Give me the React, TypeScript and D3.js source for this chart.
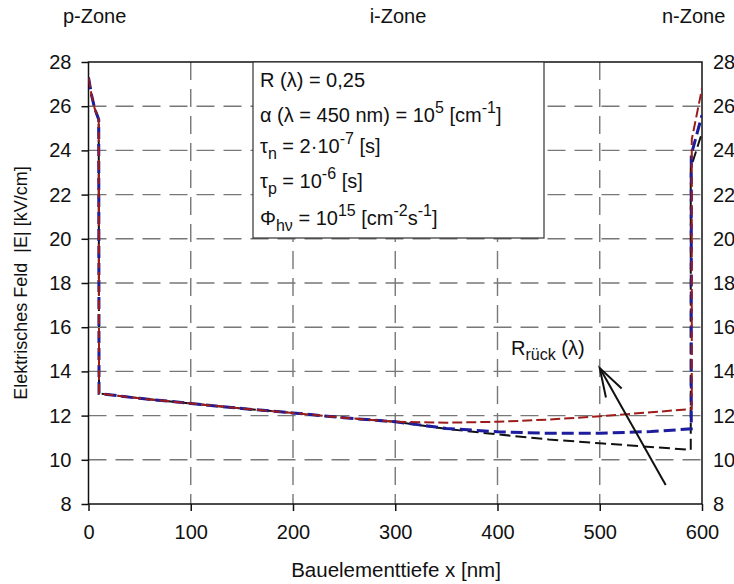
import { useEffect, useRef } from "react";
import * as d3 from "d3";

// shared course: p-zone spike, drop, then common decline in the i-zone
const xShared = [0, 3, 6, 10, 10.3, 50, 100, 150, 200, 250, 300];
const eShared = [27.3, 26.5, 25.9, 25.4, 13.0, 12.78, 12.55, 12.32, 12.12, 11.9, 11.72];

// series tails (after x = 300)
const xRed = [350, 400, 450, 500, 550, 590, 590, 600];
const eRed = [11.68, 11.72, 11.82, 11.97, 12.15, 12.3, 24.5, 26.8];
const xBlue = [350, 400, 450, 500, 550, 589.5, 589.5, 600];
const eBlue = [11.42, 11.27, 11.2, 11.2, 11.28, 11.4, 23.8, 25.6];
const xBlack = [350, 400, 450, 500, 550, 589, 589, 600];
const eBlack = [11.4, 11.15, 10.92, 10.75, 10.58, 10.45, 23.2, 24.8];

const xTicks = [0, 100, 200, 300, 400, 500, 600];
const yTicks = [8, 10, 12, 14, 16, 18, 20, 22, 24, 26, 28];

// arrow pointing at R_rück label
const arrowFrom = [564.5, 8.86];
const arrowTo = [500, 14.15];

const FONT = "'Liberation Sans', Arial, sans-serif";

const W = 734, H = 584;
const margin = { top: 62, right: 32, bottom: 80, left: 88.5 };
const iw = 702 - margin.left;
const ih = 504 - margin.top;

const x = d3.scaleLinear().domain([0, 600]).range([0, iw]);
const y = d3.scaleLinear().domain([8, 28]).range([ih, 0]);

const mk = (xs, es) =>
  xShared.map((v, i) => [v, eShared[i]]).concat(xs.map((v, i) => [v, es[i]]));

const series = [
  { name: "black", data: mk(xBlack, eBlack), color: "#111", width: 2, dash: "11,5" },
  { name: "blue", data: mk(xBlue, eBlue), color: "#1c1c9c", width: 3, dash: "12,5" },
  { name: "red", data: mk(xRed, eRed), color: "#9c1c1c", width: 2, dash: "10,4" },
];

// rich text: segments of [text, kind] where kind is "n" | "sup" | "sub"
const RichText = ({ x0, y0, parts, size = 20, sub = 6, sup = 9 }) => {
  let shift = 0;
  return (
    <text x={x0} y={y0} fontSize={size}>
      {parts.map(([t, k], i) => {
        const target = k === "sup" ? -sup : k === "sub" ? sub : 0;
        const dy = target - shift;
        shift = target;
        return (
          <tspan key={i} dy={dy} fontSize={k === "n" ? size : 16}>{t}</tspan>
        );
      })}
    </text>
  );
};

export default function App() {
  const axRef = useRef(null);

  useEffect(() => {
    const g = d3.select(axRef.current);
    g.selectAll("*").remove();

    // grid
    g.append("g")
      .selectAll("line")
      .data(yTicks.filter((d) => d > 8 && d < 28))
      .join("line")
      .attr("x1", 0).attr("x2", iw)
      .attr("y1", (d) => y(d)).attr("y2", (d) => y(d))
      .attr("stroke", "#777").attr("stroke-width", 1.4)
      .attr("stroke-dasharray", "18,9");
    g.append("g")
      .selectAll("line")
      .data(xTicks.filter((d) => d > 0 && d < 600))
      .join("line")
      .attr("y1", 0).attr("y2", ih)
      .attr("x1", (d) => x(d)).attr("x2", (d) => x(d))
      .attr("stroke", "#777").attr("stroke-width", 1.4)
      .attr("stroke-dasharray", "18,9");

    const left = g.append("g").call(d3.axisLeft(y).tickValues(yTicks).tickSize(7).tickPadding(10));
    const right = g.append("g").attr("transform", `translate(${iw},0)`)
      .call(d3.axisRight(y).tickValues(yTicks).tickSize(0).tickPadding(11));
    const bottom = g.append("g").attr("transform", `translate(0,${ih})`)
      .call(d3.axisBottom(x).tickValues(xTicks).tickSize(7).tickPadding(14));

    [left, right, bottom].forEach((a) => {
      a.select(".domain").remove();
      a.selectAll("line").attr("stroke", "#111").attr("stroke-width", 1.5);
      a.selectAll("text").attr("font-size", 20).attr("font-family", FONT).attr("fill", "#111");
    });

    // frame
    g.append("rect")
      .attr("width", iw).attr("height", ih)
      .attr("fill", "none").attr("stroke", "#111").attr("stroke-width", 1.5);
  }, []);

  const line = d3.line().x((d) => x(d[0])).y((d) => y(d[1]));

  const ax = x(arrowTo[0]), ay = y(arrowTo[1]);
  const tx = x(arrowFrom[0]), ty = y(arrowFrom[1]);
  const ang = Math.atan2(ty - ay, tx - ax);
  const hl = 30, ha = (17.5 * Math.PI) / 180;
  const b1 = [ax + hl * Math.cos(ang - ha), ay + hl * Math.sin(ang - ha)];
  const b2 = [ax + hl * Math.cos(ang + ha), ay + hl * Math.sin(ang + ha)];

  const boxX = 253 - margin.left;
  const tx0 = 260 - margin.left;

  return (
    <svg width={W} height={H} style={{ position: "absolute", left: 0, top: 0, background: "#fff" }}
      fontFamily={FONT} fill="#111">
      <defs>
        <clipPath id="plot">
          <rect x={0} y={0} width={iw} height={ih} />
        </clipPath>
      </defs>
      <text x={63} y={23} fontSize={20}>p-Zone</text>
      <text x={398} y={23} fontSize={20} textAnchor="middle">i-Zone</text>
      <text x={662} y={23} fontSize={20}>n-Zone</text>

      <g transform={`translate(${margin.left},${margin.top})`}>
        <g ref={axRef} />
        <g clipPath="url(#plot)">
          {series.map((s) => (
            <path key={s.name} d={line(s.data)} fill="none" stroke={s.color}
              strokeWidth={s.width} strokeDasharray={s.dash} />
          ))}
        </g>

        {/* parameter box */}
        <rect x={boxX} y={0} width={544 - 253} height={238 - 62} fill="#fff" stroke="#333" strokeWidth={1.2} />
        <RichText x0={tx0} y0={87 - margin.top} parts={[["R (λ) = 0,25", "n"]]} />
        <RichText x0={tx0} y0={122 - margin.top}
          parts={[["α (λ = 450 nm) = 10", "n"], ["5", "sup"], [" [cm", "n"], ["-1", "sup"], ["]", "n"]]} />
        <RichText x0={tx0} y0={153 - margin.top}
          parts={[["τ", "n"], ["n", "sub"], [" = 2·10", "n"], ["-7", "sup"], [" [s]", "n"]]} />
        <RichText x0={tx0} y0={188 - margin.top}
          parts={[["τ", "n"], ["p", "sub"], [" = 10", "n"], ["-6", "sup"], [" [s]", "n"]]} />
        <RichText x0={tx0} y0={225 - margin.top}
          parts={[["Φ", "n"], ["hν", "sub"], [" = 10", "n"], ["15", "sup"], [" [cm", "n"], ["-2", "sup"],
            ["s", "n"], ["-1", "sup"], ["]", "n"]]} />

        {/* R_rück annotation */}
        <RichText x0={511 - margin.left} y0={355 - margin.top} sub={5}
          parts={[["R", "n"], ["rück", "sub"], [" (λ)", "n"]]} />
        <g stroke="#111" strokeWidth={2} fill="none">
          <line x1={tx} y1={ty} x2={ax} y2={ay} />
          <polyline points={`${b1[0]},${b1[1]} ${ax},${ay} ${b2[0]},${b2[1]}`} />
        </g>
      </g>

      <text x={396} y={577} fontSize={20.5} textAnchor="middle">Bauelementtiefe x [nm]</text>
      <text transform={`translate(27,${margin.top + ih / 2}) rotate(-90)`} fontSize={18} textAnchor="middle">
        Elektrisches Feld{"\u00a0\u00a0"}|E| [kV/cm]
      </text>
    </svg>
  );
}
